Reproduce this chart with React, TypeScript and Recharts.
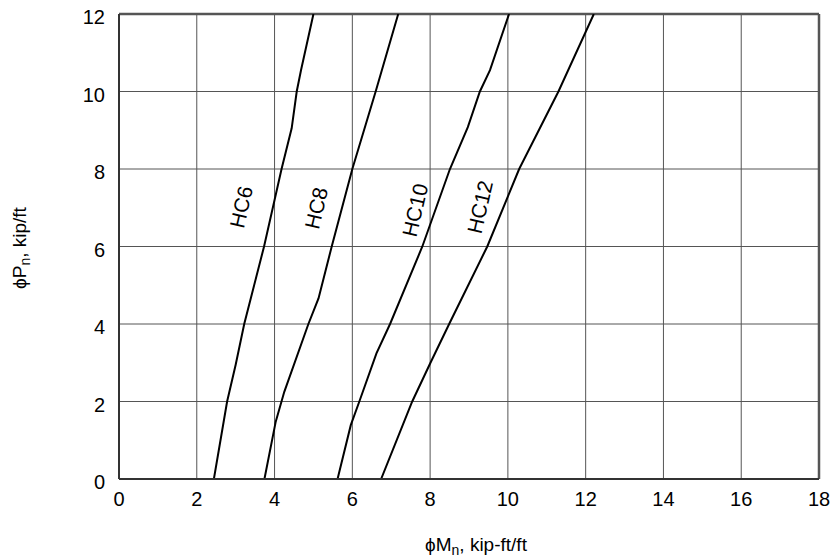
import React from 'react';
import { LineChart, Line, XAxis, YAxis, CartesianGrid, ReferenceLine, ReferenceDot } from 'recharts';

interface Pt {
  x: number;
  y: number;
}

// phiMn (kip-ft/ft) vs phiPn (kip/ft)
const hc6: Pt[] = [
  { x: 2.44, y: 0 }, { x: 2.78, y: 2 }, { x: 3.0, y: 2.95 }, { x: 3.22, y: 4 },
  { x: 3.73, y: 6 }, { x: 4.18, y: 8 }, { x: 4.44, y: 9.05 }, { x: 4.57, y: 10 },
  { x: 4.68, y: 10.55 }, { x: 5.0, y: 12 },
];
const hc8: Pt[] = [
  { x: 3.74, y: 0 }, { x: 4.03, y: 1.48 }, { x: 4.25, y: 2.25 }, { x: 4.87, y: 4 },
  { x: 5.13, y: 4.66 }, { x: 5.47, y: 6 }, { x: 6.0, y: 8 }, { x: 6.6, y: 10 }, { x: 7.18, y: 12 },
];
const hc10: Pt[] = [
  { x: 5.62, y: 0 }, { x: 5.96, y: 1.39 }, { x: 6.18, y: 2 }, { x: 6.62, y: 3.24 },
  { x: 6.97, y: 4 }, { x: 7.8, y: 6 }, { x: 8.51, y: 8 }, { x: 8.97, y: 9.08 },
  { x: 9.28, y: 10 }, { x: 9.54, y: 10.55 }, { x: 10.03, y: 12 },
];
const hc12: Pt[] = [
  { x: 6.74, y: 0 }, { x: 7.54, y: 2 }, { x: 8.0, y: 2.98 }, { x: 8.49, y: 4 },
  { x: 9.47, y: 6 }, { x: 10.29, y: 8 }, { x: 11.3, y: 10 }, { x: 12.21, y: 12 },
];

const seriesNames = ['HC6', 'HC8', 'HC10', 'HC12'];
const seriesData = [hc6, hc8, hc10, hc12];
// where each curve's name sits (data coords)
const labelPos: Pt[] = [
  { x: 3.14, y: 7.02 }, { x: 5.07, y: 6.99 }, { x: 7.61, y: 6.94 }, { x: 9.28, y: 7.02 },
];

const xTicks = [0, 2, 4, 6, 8, 10, 12, 14, 16, 18];
const yTicks = [0, 2, 4, 6, 8, 10, 12];

const FONT = '"Liberation Sans", Arial, sans-serif';

const CurveName = ({ cx, cy, name }: any) => (
  <text
    x={cx}
    y={cy}
    transform={`rotate(-77, ${cx}, ${cy})`}
    textAnchor="middle"
    dominantBaseline="central"
    fontSize={21}
    fontFamily={FONT}
    fill="#000"
  >
    {name}
  </text>
);

export default function App() {
  return (
    <div style={{ position: 'absolute', left: 0, top: 0, background: '#fff' }}>
      <LineChart width={830} height={560} margin={{ top: 14, right: 11, bottom: 0, left: 0 }}>
        <CartesianGrid stroke="#555" strokeWidth={1} />
        <XAxis
          type="number"
          dataKey="x"
          domain={[0, 18]}
          ticks={xTicks}
          allowDataOverflow
          height={81}
          tickLine={false}
          tickSize={0}
          tickMargin={13}
          axisLine={{ stroke: '#333', strokeWidth: 2 }}
          tick={{ fontSize: 20, fill: '#000', fontFamily: FONT }}
          label={{
            content: () => (
              <text x={476} y={551} textAnchor="middle" fontSize={19} fontFamily={FONT} fill="#000">
                ϕM<tspan fontSize={14} dy={4}>n</tspan>
                <tspan dy={-4}>, kip-ft/ft</tspan>
              </text>
            ),
          }}
        />
        <YAxis
          type="number"
          dataKey="y"
          domain={[0, 12]}
          ticks={yTicks}
          allowDataOverflow
          width={119}
          tickLine={false}
          tickSize={0}
          tickMargin={14}
          axisLine={{ stroke: '#333', strokeWidth: 2 }}
          tick={{ fontSize: 20, fill: '#000', fontFamily: FONT, dy: 3 }}
          label={{
            content: () => (
              <text
                x={26}
                y={248}
                transform="rotate(-90, 26, 248)"
                textAnchor="middle"
                fontSize={19}
                fontFamily={FONT}
                fill="#000"
              >
                ϕP<tspan fontSize={14} dy={4}>n</tspan>
                <tspan dy={-4}>, kip/ft</tspan>
              </text>
            ),
          }}
        />
        <ReferenceLine y={12} stroke="#555" strokeWidth={2.5} />
        <ReferenceLine x={18} stroke="#555" strokeWidth={2.5} />
        {seriesData.map((d, i) => (
          <Line
            key={seriesNames[i]}
            data={d}
            dataKey="y"
            type="linear"
            stroke="#000"
            strokeWidth={2}
            dot={false}
            activeDot={false}
            isAnimationActive={false}
          />
        ))}
        {labelPos.map((p, i) => (
          <ReferenceDot
            key={'lbl' + i}
            x={p.x}
            y={p.y}
            r={0}
            shape={(props: any) => <CurveName cx={props.cx} cy={props.cy} name={seriesNames[i]} />}
          />
        ))}
      </LineChart>
    </div>
  );
}
